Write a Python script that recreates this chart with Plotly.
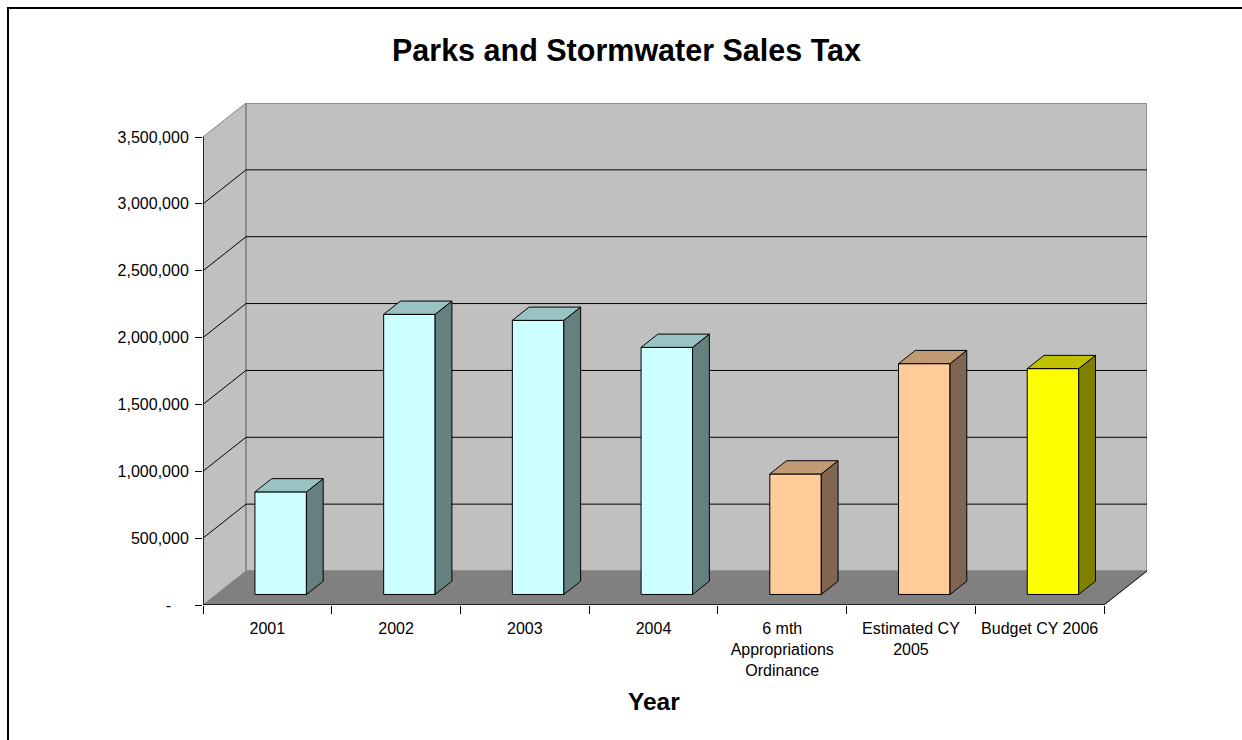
import plotly.graph_objects as go

# ---- data -------------------------------------------------------------
categories = [
    "2001",
    "2002",
    "2003",
    "2004",
    "6 mth<br>Appropriations<br>Ordinance",
    "Estimated CY<br>2005",
    "Budget CY 2006",
]
sales_tax = [767000, 2095000, 2050000, 1848000, 901000, 1726000, 1689000]
front_colors = ["#CCFFFF"] * 4 + ["#FFCC99"] * 2 + ["#FFFF00"]
top_colors = ["#99C2C2"] * 4 + ["#C09A73"] * 2 + ["#C0C000"]
side_colors = ["#668080"] * 4 + ["#806650"] * 2 + ["#808000"]
y_ticks = [0, 500000, 1000000, 1500000, 2000000, 2500000, 3000000, 3500000]
y_tick_text = ["-\u00a0\u00a0\u00a0\u00a0", "500,000", "1,000,000", "1,500,000",
               "2,000,000", "2,500,000", "3,000,000", "3,500,000"]

# ---- pseudo-3D geometry (oblique projection) -------------------------
W, H = 1242, 740
M_L, M_R, M_T, M_B = 203, 95, 103, 135
N = len(categories)
Y_MAX = y_ticks[-1]
plot_w = W - M_L - M_R
plot_h = H - M_T - M_B
CAT_PX = (plot_w - 43) / N            # front-plane width of one category
VAL_PX = (plot_h - 34) / Y_MAX        # pixels per unit of value
DX = 43 / CAT_PX                      # depth offset in category units
DY = 34 / VAL_PX                      # depth offset in value units
BAR_W = 0.4
Z_FRONT, Z_BACK = 0.31, 0.70          # bar depth within the floor

FONT = "Arial, 'Liberation Sans', sans-serif"


def path(points):
    return "M " + " L ".join(f"{x},{y}" for x, y in points) + " Z"


def px_x(p):
    return (p - M_L) / plot_w


def px_y(p):
    return (H - M_B - p) / plot_h


shapes = []
# side wall and back wall
shapes.append(dict(type="path", xref="x", yref="y", layer="below",
                   path=path([(0, 0), (DX, DY), (DX, Y_MAX + DY), (0, Y_MAX)]),
                   fillcolor="#C0C0C0", line=dict(color="#808080", width=1)))
shapes.append(dict(type="rect", xref="x", yref="y", layer="below",
                   x0=DX, y0=DY, x1=N + DX, y1=Y_MAX + DY,
                   fillcolor="#C0C0C0", line=dict(color="#808080", width=1.5)))
# gridlines on back and side walls
for v in y_ticks[1:-1]:
    shapes.append(dict(type="line", xref="x", yref="y", layer="below",
                       x0=DX, y0=v + DY, x1=N + DX, y1=v + DY,
                       line=dict(color="black", width=1)))
    shapes.append(dict(type="line", xref="x", yref="y", layer="below",
                       x0=0, y0=v, x1=DX, y1=v + DY,
                       line=dict(color="black", width=1)))
# floor
shapes.append(dict(type="path", xref="x", yref="y", layer="below",
                   path=path([(0, 0), (N, 0), (N + DX, DY), (DX, DY)]),
                   fillcolor="#808080", line=dict(width=0)))
shapes.append(dict(type="line", xref="x", yref="y", layer="below",
                   x0=0, y0=0, x1=N, y1=0, line=dict(color="black", width=1.5)))
shapes.append(dict(type="line", xref="x", yref="y", layer="below",
                   x0=N, y0=0, x1=N + DX, y1=DY, line=dict(color="black", width=1)))
shapes.append(dict(type="line", xref="x", yref="y", layer="below",
                   x0=0, y0=0, x1=0, y1=Y_MAX, line=dict(color="black", width=1.5)))
# chart border: top and left edges
shapes.append(dict(type="line", xref="paper", yref="paper",
                   x0=px_x(7), x1=px_x(W + 20), y0=px_y(8), y1=px_y(8),
                   line=dict(color="black", width=2)))
shapes.append(dict(type="line", xref="paper", yref="paper",
                   x0=px_x(8), x1=px_x(8), y0=px_y(7), y1=px_y(H + 20),
                   line=dict(color="black", width=2)))

fig = go.Figure()

for i, v in enumerate(sales_tax):
    xl, xr = i + 0.5 - BAR_W / 2, i + 0.5 + BAR_W / 2
    fx, fy = Z_FRONT * DX, Z_FRONT * DY
    bx, by = Z_BACK * DX, Z_BACK * DY
    # right side face
    fig.add_trace(go.Scatter(
        x=[xr + fx, xr + bx, xr + bx, xr + fx, xr + fx],
        y=[fy, by, v + by, v + fy, fy],
        mode="lines", fill="toself", fillcolor=side_colors[i],
        line=dict(color="black", width=1), hoverinfo="skip"))
    # top face
    fig.add_trace(go.Scatter(
        x=[xl + fx, xr + fx, xr + bx, xl + bx, xl + fx],
        y=[v + fy, v + fy, v + by, v + by, v + fy],
        mode="lines", fill="toself", fillcolor=top_colors[i],
        line=dict(color="black", width=1), hoverinfo="skip"))

# front faces of the columns
fig.add_trace(go.Bar(
    x=[i + 0.5 + Z_FRONT * DX for i in range(N)],
    y=sales_tax,
    base=[Z_FRONT * DY] * N,
    width=BAR_W,
    marker=dict(color=front_colors, line=dict(color="black", width=1)),
    hoverinfo="skip"))

fig.update_layout(
    width=W, height=H,
    margin=dict(l=M_L, r=M_R, t=M_T, b=M_B, autoexpand=False),
    paper_bgcolor="white", plot_bgcolor="white",
    showlegend=False, hovermode=False, barmode="overlay",
    font=dict(family=FONT, color="black", size=16),
    title=dict(text="<b>Parks and Stormwater Sales Tax</b>",
               x=626.5 / W, xanchor="center", y=1 - 50 / H, yanchor="middle",
               font=dict(family=FONT, size=30.5, color="black")),
    xaxis=dict(range=[0, N + DX], showgrid=False, zeroline=False, showline=False,
               tickmode="array", tickvals=[i + 0.5 for i in range(N)],
               ticktext=categories, ticks="", ticklabelstandoff=12,
               tickfont=dict(family=FONT, size=16, color="black"),
               minor=dict(tickmode="array", tickvals=list(range(N + 1)),
                          ticks="outside", ticklen=8, tickcolor="black",
                          tickwidth=1, showgrid=False),
               fixedrange=True),
    yaxis=dict(range=[0, Y_MAX + DY], showgrid=False, zeroline=False, showline=False,
               tickmode="array", tickvals=y_ticks, ticktext=y_tick_text,
               ticks="outside", ticklen=7, tickcolor="black", tickwidth=1,
               ticklabelstandoff=3,
               tickfont=dict(family=FONT, size=16, color="black"),
               fixedrange=True),
    shapes=shapes,
    annotations=[dict(text="<b>Year</b>", xref="paper", yref="paper",
                      x=px_x(654), y=px_y(701),
                      xanchor="center", yanchor="middle", showarrow=False,
                      font=dict(family=FONT, size=24.5, color="black"))],
)

fig.write_html("out.html")
